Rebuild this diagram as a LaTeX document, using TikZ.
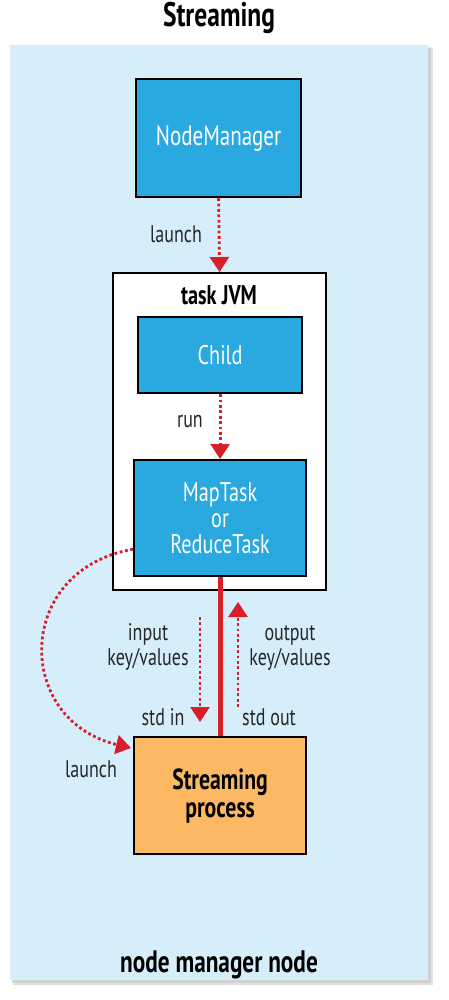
\documentclass[tikz,border=0pt]{standalone}
\usepackage{fontspec}
\setmainfont{PT Sans}[FakeStretch=0.75]
\usetikzlibrary{arrows.meta,shadows,calc}
\definecolor{panel}{HTML}{D6EEF9}
\definecolor{boxblue}{HTML}{29A9E0}
\definecolor{procorange}{HTML}{FDB863}
\definecolor{arrred}{HTML}{D71F2A}
\begin{document}
\begin{tikzpicture}[x=1pt,y=-1pt,
  bluebox/.style={draw=black,line width=2.2pt,fill=boxblue,text=white,font=\fontsize{27}{26}\selectfont,align=center,inner sep=0pt,anchor=north west},
  dotarrow/.style={draw=arrred,line width=2.8pt,dash pattern=on 2.8pt off 2.6pt,-{Triangle[width=19pt,length=15pt,fill=arrred]}},
  lbl/.style={font=\fontsize{24}{25}\selectfont,text=black!85,anchor=base,align=center,inner sep=0pt},
  bold/.style={font=\bfseries\fontsize{27}{27}\selectfont,anchor=base,inner sep=0pt}]
\useasboundingbox (0,0) rectangle (448,1000);
% panel
\fill[black!35,opacity=0.35] (13,48) rectangle (433,985);
\fill[black!30,opacity=0.35] (12,47) rectangle (431,983);
\fill[panel] (10,45) rectangle (428,980);
\node[bold,font=\bfseries\fontsize{34}{34}\selectfont] (title) at (219,27) {Streaming};
\node[bold,font=\bfseries\fontsize{31}{31}\selectfont] (nmn) at (219,972) {node manager node};
% NodeManager
\node[bluebox,minimum width=165pt,minimum height=118pt,font=\fontsize{28}{28}\selectfont] (nm) at (135,78) {NodeManager};
% task JVM
\node[draw=black,line width=2.2pt,fill=white,anchor=north west,minimum width=213pt,minimum height=317pt,inner sep=0pt] (jvm) at (112,272) {};
\node[bold] (jvmt) at (219,304) {task JVM};
\node[bluebox,minimum width=164pt,minimum height=76pt] (child) at (137,316) {Child};
\node[bluebox,minimum width=172pt,minimum height=116pt] (mt) at (133,459) {MapTask\\or\\ReduceTask};
\node[draw=black,line width=2.2pt,fill=procorange,anchor=north west,minimum width=172pt,minimum height=117pt,inner sep=0pt,align=center,font=\bfseries\fontsize{29}{28}\selectfont] (proc) at (133,736) {Streaming\\process};
% arrows
\draw[dotarrow] (nm.south) -- (jvm.north);
\node[lbl] (l1) at (176,243) {launch};
\draw[dotarrow] (child.south) -- (mt.north);
\node[lbl] (l2) at (190,427) {run};
\draw[arrred,line width=5pt] (mt.south) -- (proc.north);
\coordinate (inS) at (200,617);
\coordinate (inE) at (200,722);
\coordinate (outS) at (238,707);
\coordinate (outE) at (238,602);
\draw[dotarrow] (inS) -- (inE);
\draw[dotarrow] (outS) -- (outE);
\node[lbl] (li) at (148,665) {input\\key/values};
\node[lbl] (lo) at (290,665) {output\\key/values};
\node[lbl] (si) at (163,725) {std in};
\node[lbl] (so) at (269,725) {std out};
\coordinate (cs) at ($(mt.south west)+(0,-28)$);
\coordinate (ce) at ($(proc.north west)+(-2,12)$);
\draw[dotarrow] (cs) .. controls (14,570) and (14,720) .. (ce);
\node[lbl] (l3) at (91,777) {launch};
\end{tikzpicture}
\end{document}
